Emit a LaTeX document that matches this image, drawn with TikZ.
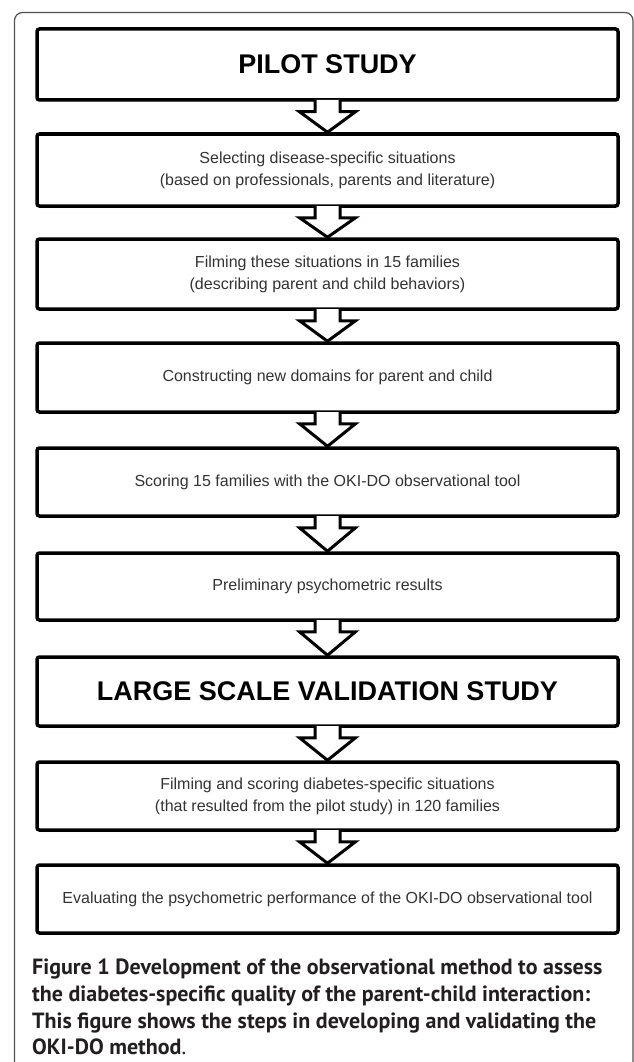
\documentclass[tikz,border=0pt]{standalone}
\usepackage{fontspec}
\setmainfont{Liberation Sans}
\newfontfamily\capfont{PT Sans}
\usetikzlibrary{calc,shadows}
\definecolor{bodytext}{HTML}{333333}
\definecolor{captext}{HTML}{231F20}
\definecolor{framegray}{HTML}{505050}
\tikzset{
  stepbox/.style={draw=black, line width=3.5pt, rounded corners=2.5pt, fill=white,
    minimum width=581pt, inner sep=0pt, align=center, text=bodytext,
    font=\fontsize{16}{22}\selectfont,
    drop shadow={shadow xshift=1.2pt, shadow yshift=-2pt, opacity=0.22}},
  titlebox/.style={stepbox, text=black, font=\fontsize{27}{30}\selectfont\bfseries},
  arrowline/.style={draw=black, fill=white, line width=3pt, line join=miter},
  captext/.style={anchor=base west, inner sep=0pt, text=captext,
    font=\capfont\fontsize{22}{27}\selectfont\bfseries},
}
\newcommand\blockarrow[2]{%
  \fill[white] ($(#1.south)+(-11,2.2)$) rectangle ($(#1.south)+(11,-10)$);
  \filldraw[arrowline] ($(#1.south)+(-12.5,1.75)$) -- ($(#1.south)+(-12.5,-10)$)
    -- ($(#1.south)+(-28,-10)$) -- (#2.north) -- ($(#1.south)+(28,-10)$)
    -- ($(#1.south)+(12.5,-10)$) -- ($(#1.south)+(12.5,1.75)$);
}
\begin{document}
\begin{tikzpicture}[x=1pt,y=1pt]
\useasboundingbox (0,0) rectangle (633,-1062);
\fill[white] (0,0) rectangle (633,-1062);
% outer frame
\draw[framegray, line width=1.2pt, rounded corners=8pt]
  (14.5,-1100) -- (14.5,-12.5) -- (633,-12.5) -- (633,-1100);
% boxes
\node[titlebox, minimum height=71pt] (b1) at (327.5,-64.5) {PILOT STUDY};
\node[stepbox, minimum height=72pt] (b2) at (327.5,-170)
  {Selecting disease-specific situations\\(based on professionals, parents and literature)};
\node[stepbox, minimum height=70pt] (b3) at (327.5,-274)
  {Filming these situations in 15 families\\(describing parent and child behaviors)};
\node[stepbox, minimum height=69pt] (b4) at (327.5,-377.5)
  {Constructing new domains for parent and child};
\node[stepbox, minimum height=68pt] (b5) at (327.5,-482)
  {Scoring 15 families with the OKI-DO observational tool};
\node[stepbox, minimum height=67pt] (b6) at (327.5,-586.5)
  {Preliminary psychometric results};
\node[titlebox, minimum height=69pt] (b7) at (327.5,-691.5) {LARGE SCALE VALIDATION STUDY};
\node[stepbox, minimum height=68pt] (b8) at (327.5,-796)
  {Filming and scoring diabetes-specific situations\\(that resulted from the pilot study) in 120 families};
\node[stepbox, minimum height=68pt] (b9) at (327.5,-899)
  {Evaluating the psychometric performance of the OKI-DO observational tool};
% arrows
\blockarrow{b1}{b2}
\blockarrow{b2}{b3}
\blockarrow{b3}{b4}
\blockarrow{b4}{b5}
\blockarrow{b5}{b6}
\blockarrow{b6}{b7}
\blockarrow{b7}{b8}
\blockarrow{b8}{b9}
% caption
\node[captext] (cap1) at (32,-974) {Figure 1 Development of the observational method to assess};
\node[captext] (cap2) at (32,-1001) {the diabetes-specific quality of the parent-child interaction:};
\node[captext] (cap3) at (32,-1028) {This figure shows the steps in developing and validating the};
\node[captext] (cap4) at (32,-1054) {OKI-DO method\mdseries.};
\end{tikzpicture}
\end{document}
